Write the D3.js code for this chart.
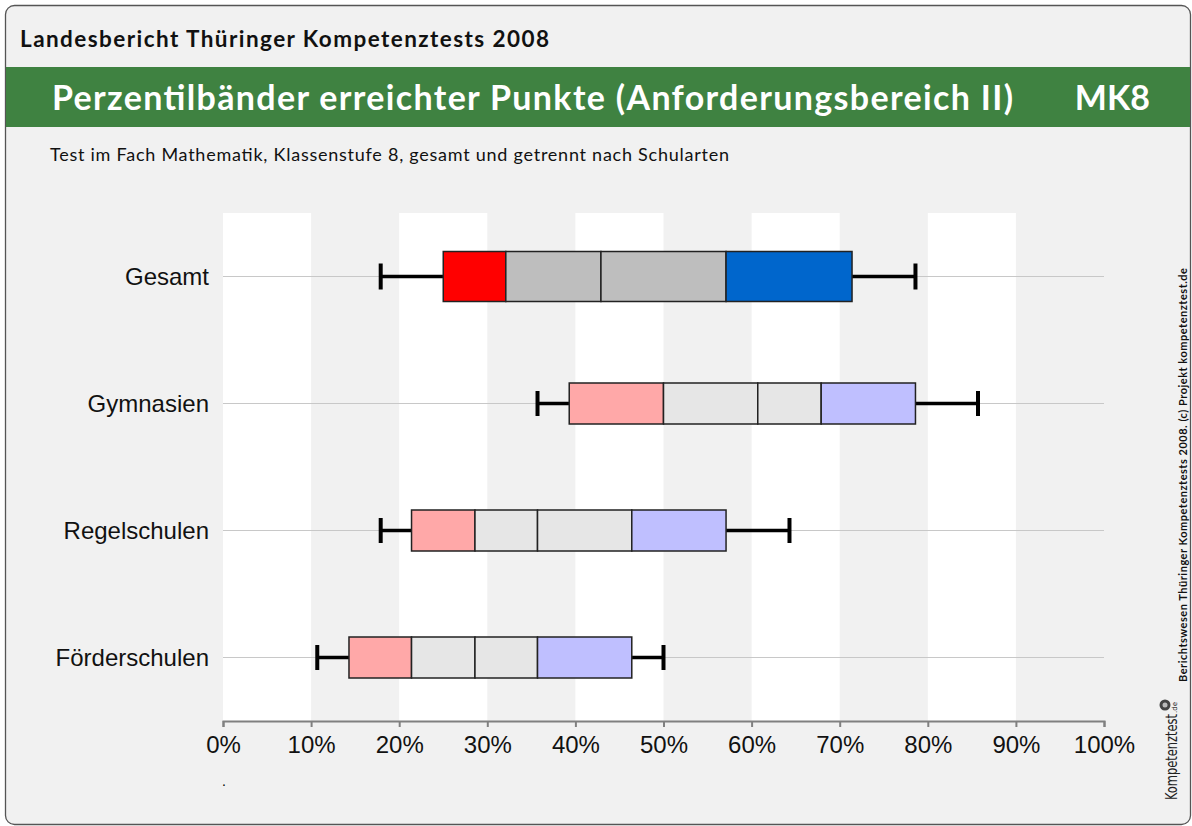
<!DOCTYPE html>
<html>
<head>
<meta charset="utf-8">
<script src="https://cdn.jsdelivr.net/npm/d3@7"></script>
<style>
  body { margin: 0; background: #fff; }
  svg { display: block; }
</style>
</head>
<body>
<div id="viz"></div>
<script>
// percentile values in % of max points
const categories = ['Gesamt', 'Gymnasien', 'Regelschulen', 'Förderschulen'];
const p5 = [17.9, 35.7, 17.9, 10.7];
const p10 = [25.0, 39.3, 21.4, 14.3];
const p25 = [32.1, 50.0, 28.6, 21.4];
const p50 = [42.9, 60.7, 35.7, 28.6];
const p75 = [57.1, 67.9, 46.4, 35.7];
const p90 = [71.4, 78.6, 57.1, 46.4];
const p95 = [78.6, 85.7, 64.3, 50.0];
const xTicks = [0, 10, 20, 30, 40, 50, 60, 70, 80, 90, 100];

const headerText = 'Landesbericht Thüringer Kompetenztests 2008';
const titleText = 'Perzentilbänder erreichter Punkte (Anforderungsbereich II)';
const codeText = 'MK8';
const subtitleText = 'Test im Fach Mathematik, Klassenstufe 8, gesamt und getrennt nach Schularten';
const sideText = 'Berichtswesen Thüringer Kompetenztests 2008. (c) Projekt kompetenztest.de';

const canvasWidth = 1192;
const canvasHeight = 826;
const plot = { left: 223, right: 1104, top: 213, bottom: 721 };

const rows = categories.map((name, i) => ({
  name,
  p5: p5[i], p10: p10[i], p25: p25[i], p50: p50[i], p75: p75[i], p90: p90[i], p95: p95[i]
}));

const x = d3.scaleLinear().domain([0, 100]).range([plot.left, plot.right]);
const y = d3.scaleBand().domain(categories).range([plot.top, plot.bottom]);

const strongFill = ['#ff0000', '#bebebe', '#bebebe', '#0066cc'];
const softFill = ['#ffa8a8', '#e6e6e6', '#e6e6e6', '#bfbfff'];

const svg = d3.select('#viz')
  .append('svg')
  .attr('width', canvasWidth)
  .attr('height', canvasHeight);

// frame
svg.append('rect')
  .attr('x', 5.5).attr('y', 5.5)
  .attr('width', 1185).attr('height', 819)
  .attr('rx', 9)
  .attr('fill', '#f1f1f1')
  .attr('stroke', '#555')
  .attr('stroke-width', 1.3);

svg.append('text')
  .attr('x', 20).attr('y', 47)
  .attr('font-family', 'Lato, sans-serif')
  .attr('font-weight', 700)
  .attr('font-size', 22.5)
  .attr('fill', '#111')
  .attr('textLength', 529)
  .attr('lengthAdjust', 'spacing')
  .text(headerText);

svg.append('rect')
  .attr('x', 6).attr('y', 67)
  .attr('width', 1184).attr('height', 60)
  .attr('fill', '#3f8241');

svg.append('text')
  .attr('x', 52).attr('y', 110)
  .attr('font-family', 'Lato, sans-serif')
  .attr('font-weight', 700)
  .attr('font-size', 34)
  .attr('fill', '#fff')
  .attr('textLength', 961)
  .attr('lengthAdjust', 'spacing')
  .text(titleText);

svg.append('text')
  .attr('x', 1150).attr('y', 110)
  .attr('text-anchor', 'end')
  .attr('font-family', 'Lato, sans-serif')
  .attr('font-weight', 700)
  .attr('font-size', 34)
  .attr('fill', '#fff')
  .text(codeText);

svg.append('text')
  .attr('x', 50).attr('y', 161)
  .attr('font-family', 'Lato, sans-serif')
  .attr('font-size', 18)
  .attr('fill', '#111')
  .attr('textLength', 679)
  .attr('lengthAdjust', 'spacing')
  .text(subtitleText);

// alternating stripes
svg.append('g')
  .selectAll('rect').data(xTicks.slice(0, -1).filter((d, i) => i % 2 === 0))
  .enter().append('rect')
    .attr('x', (d) => x(d))
    .attr('y', plot.top)
    .attr('width', (d) => x(d + 10) - x(d))
    .attr('height', plot.bottom - plot.top)
    .attr('fill', '#fff');

// row lines
svg.append('g')
  .selectAll('line').data(categories)
  .enter().append('line')
    .attr('x1', plot.left)
    .attr('x2', plot.right)
    .attr('y1', (d) => y(d) + y.bandwidth() / 2)
    .attr('y2', (d) => y(d) + y.bandwidth() / 2)
    .attr('stroke', '#c8c8c8')
    .attr('stroke-width', 1.2);

// axis
const axis = svg.append('g')
  .attr('transform', `translate(0, ${plot.bottom})`)
  .call(d3.axisBottom(x).tickValues(xTicks).tickSize(6).tickPadding(9).tickFormat((d) => `${d}%`));
axis.select('.domain').attr('stroke', '#808080').attr('stroke-width', 2);
axis.selectAll('.tick line').attr('stroke', '#808080').attr('stroke-width', 2);
axis.selectAll('.tick text')
  .attr('font-family', 'Liberation Sans, Arial, sans-serif')
  .attr('font-size', 24)
  .attr('fill', '#111');

// category labels
svg.append('g')
  .selectAll('text').data(categories)
  .enter().append('text')
    .attr('x', 209)
    .attr('y', (d) => y(d) + y.bandwidth() / 2 + 8.6)
    .attr('text-anchor', 'end')
    .attr('font-family', 'Liberation Sans, Arial, sans-serif')
    .attr('font-size', 24)
    .attr('fill', '#111')
    .text((d) => d);

// boxes and whiskers
const boxH = (d) => d.name === 'Gesamt' ? 50 : 41;
const capH = (d) => d.name === 'Gesamt' ? 26 : 25;

const groups = svg.append('g')
  .selectAll('g').data(rows)
  .enter().append('g')
    .attr('transform', (d) => `translate(0, ${y(d.name) + y.bandwidth() / 2})`);

groups.append('line')
  .attr('x1', (d) => x(d.p5)).attr('x2', (d) => x(d.p10))
  .attr('stroke', '#000').attr('stroke-width', 3.5);
groups.append('line')
  .attr('x1', (d) => x(d.p90)).attr('x2', (d) => x(d.p95))
  .attr('stroke', '#000').attr('stroke-width', 3.5);
groups.append('line')
  .attr('x1', (d) => x(d.p5)).attr('x2', (d) => x(d.p5))
  .attr('y1', (d) => -capH(d) / 2).attr('y2', (d) => capH(d) / 2)
  .attr('stroke', '#000').attr('stroke-width', 4);
groups.append('line')
  .attr('x1', (d) => x(d.p95)).attr('x2', (d) => x(d.p95))
  .attr('y1', (d) => -capH(d) / 2).attr('y2', (d) => capH(d) / 2)
  .attr('stroke', '#000').attr('stroke-width', 4);

groups.selectAll('rect')
  .data((d) => {
    const edges = [d.p10, d.p25, d.p50, d.p75, d.p90];
    const fills = d.name === 'Gesamt' ? strongFill : softFill;
    return edges.slice(0, -1).map((e, i) => ({ from: e, to: edges[i + 1], fill: fills[i], h: boxH(d) }));
  })
  .enter().append('rect')
    .attr('x', (s) => x(s.from))
    .attr('y', (s) => -s.h / 2)
    .attr('width', (s) => x(s.to) - x(s.from))
    .attr('height', (s) => s.h)
    .attr('fill', (s) => s.fill)
    .attr('stroke', '#222')
    .attr('stroke-width', 1.5);

// little dot under the axis
svg.append('text')
  .attr('x', 222).attr('y', 786)
  .attr('font-family', 'Liberation Sans, Arial, sans-serif')
  .attr('font-size', 14)
  .attr('fill', '#000')
  .text('.');

// side copyright
svg.append('text')
  .attr('transform', 'translate(1187, 682) rotate(-90)')
  .attr('font-family', 'Lato, sans-serif')
  .attr('font-weight', 700)
  .attr('font-size', 11)
  .attr('fill', '#111')
  .attr('textLength', 414)
  .attr('lengthAdjust', 'spacing')
  .text(sideText);

// logo
const logo = svg.append('g').attr('transform', 'translate(1177, 800) rotate(-90)');
logo.append('text')
  .attr('x', 0).attr('y', 0)
  .attr('font-family', 'DejaVu Sans Condensed, DejaVu Sans, sans-serif')
  .attr('font-size', 16)
  .attr('fill', '#222')
  .attr('textLength', 86)
  .attr('lengthAdjust', 'spacingAndGlyphs')
  .text('Kompetenztest');
logo.append('text')
  .attr('x', 87).attr('y', 0)
  .attr('font-family', 'DejaVu Sans, sans-serif')
  .attr('font-size', 7)
  .attr('fill', '#222')
  .text('.de');
logo.append('circle')
  .attr('cx', 95).attr('cy', -12)
  .attr('r', 5.5)
  .attr('fill', '#444');
logo.append('circle')
  .attr('cx', 95).attr('cy', -12)
  .attr('r', 2.5)
  .attr('fill', '#bbb');
</script>
</body>
</html>
